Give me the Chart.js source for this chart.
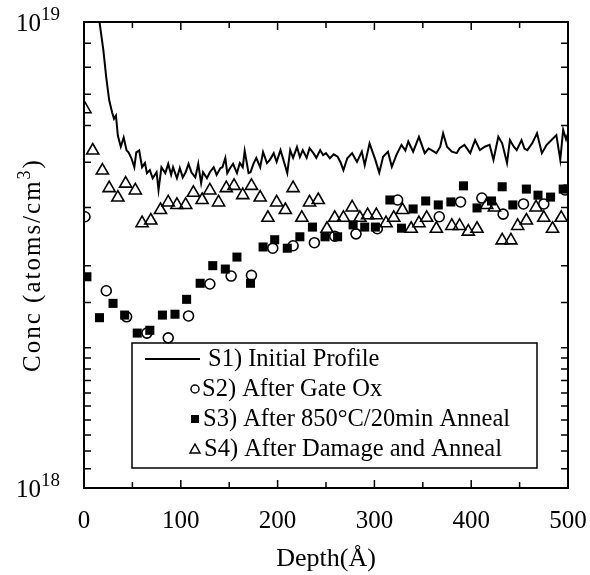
<!DOCTYPE html>
<html>
<head>
<meta charset="utf-8">
<script src="https://cdn.jsdelivr.net/npm/chart.js@4.4.1/dist/chart.umd.min.js"></script>
<style>
  body { margin: 0; background: #fff; }
</style>
</head>
<body>
<canvas id="myChart" width="590" height="575"></canvas>
<script>
// S1) initial profile - depth (A) and concentration (atoms/cm3)
const depthS1 = [0, 4, 8, 12, 16, 20, 23, 26, 29, 31, 33, 35, 38, 41, 44, 46, 49, 52, 54, 57,
  60, 63, 65, 68, 71, 75, 77, 80, 84, 87, 90, 92, 96, 99, 102, 105, 108, 111, 115, 118,
  121, 123, 127, 130, 134, 137, 141, 143, 146, 148, 151, 154, 158, 161, 164, 166, 170, 172, 175, 178,
  182, 185, 189, 192, 196, 199, 203, 206, 210, 213, 216, 220, 223, 226, 230, 233, 237, 240, 244, 247,
  250, 254, 258, 262, 265, 268, 272, 277, 282, 287, 290, 295, 301, 305, 309, 314, 318, 323, 328, 332,
  335, 340, 346, 352, 356, 359, 364, 368, 371, 375, 380, 385, 388, 393, 399, 404, 409, 414, 419, 423,
  428, 432, 437, 440, 444, 447, 452, 455, 458, 463, 468, 473, 478, 483, 488, 492, 495, 498, 500];
const concS1 = [3.0e19, 2.2e19, 1.6e19, 1.25e19, 1.0e19, 8.7e18, 7.6e18, 6.8e18, 6.4e18, 6.2e18, 6.3e18, 5.7e18, 5.4e18, 5.65e18, 5.3e18, 5.25e18, 5.1e18, 4.88e18, 5.25e18, 5.3e18,
  4.88e18, 4.98e18, 4.74e18, 4.81e18, 4.62e18, 4.76e18, 4.36e18, 4.88e18, 4.74e18, 4.96e18, 4.7e18, 4.88e18, 4.62e18, 4.86e18, 4.64e18, 4.76e18, 4.96e18, 4.76e18, 4.64e18, 4.96e18,
  4.51e18, 4.76e18, 4.62e18, 4.76e18, 4.88e18, 4.7e18, 4.86e18, 4.88e18, 5.11e18, 4.74e18, 4.86e18, 4.96e18, 4.74e18, 4.98e18, 4.88e18, 5.29e18, 4.74e18, 4.76e18, 4.96e18, 5.11e18,
  4.88e18, 5.26e18, 4.98e18, 5.06e18, 5.23e18, 5.01e18, 5.31e18, 5.06e18, 4.74e18, 5.31e18, 5.11e18, 5.39e18, 5.13e18, 5.31e18, 5.11e18, 5.36e18, 5.23e18, 5.11e18, 5.31e18, 5.18e18,
  5.23e18, 5.1e18, 5.2e18, 5.14e18, 5.0e18, 4.81e18, 5.1e18, 5.23e18, 5.01e18, 5.27e18, 4.93e18, 5.49e18, 5.06e18, 4.75e18, 5.14e18, 5.27e18, 4.89e18, 5.2e18, 5.45e18, 5.3e18,
  5.54e18, 5.27e18, 5.67e18, 5.23e18, 5.35e18, 5.31e18, 5.23e18, 5.4e18, 5.77e18, 5.4e18, 5.27e18, 5.23e18, 5.36e18, 5.45e18, 5.23e18, 5.58e18, 5.31e18, 5.4e18, 5.45e18, 5.06e18,
  5.67e18, 5.49e18, 4.98e18, 5.58e18, 5.4e18, 5.31e18, 5.58e18, 5.35e18, 5.31e18, 5.49e18, 5.77e18, 5.23e18, 5.45e18, 5.58e18, 5.72e18, 5.06e18, 5.87e18, 5.6e18, 5.77e18];

// S2) after gate ox
const depthS2 = [1, 23, 44, 65, 87, 108, 130, 152, 173, 195, 216, 238, 259, 281, 303, 324, 367, 389, 411, 433, 454, 475, 497];
const concS2 = [3.82e18, 2.65e18, 2.33e18, 2.15e18, 2.1e18, 2.34e18, 2.74e18, 2.85e18, 2.86e18, 3.27e18, 3.31e18, 3.36e18,
  3.47e18, 3.51e18, 3.6e18, 4.15e18, 3.82e18, 4.11e18, 4.19e18, 3.87e18, 4.07e18, 4.07e18, 4.36e18];

// S3) after 850C/20min anneal
const depthS3 = [3, 16, 30, 42, 55, 68, 81, 94, 106, 120, 133, 146, 158, 172, 185, 197, 210, 223, 236, 249,
  262, 278, 290, 301, 316, 328, 340, 353, 366, 379, 392, 406, 421, 432, 443, 457, 469, 482, 495];
const concS3 = [2.84e18, 2.32e18, 2.49e18, 2.35e18, 2.15e18, 2.18e18, 2.35e18, 2.36e18, 2.54e18, 2.75e18, 3.0e18, 2.95e18, 3.13e18, 2.75e18, 3.29e18, 3.41e18, 3.27e18, 3.46e18, 3.63e18, 3.46e18,
  3.46e18, 3.67e18, 3.63e18, 3.63e18, 4.15e18, 3.61e18, 3.97e18, 4.13e18, 4.05e18, 4.11e18, 4.45e18, 3.99e18, 4.13e18, 4.43e18, 4.05e18, 4.38e18, 4.25e18, 4.21e18, 4.38e18];

// S4) after damage and anneal
const depthS4 = [1, 9, 19, 26, 35, 43, 53, 60, 69, 79, 87, 96, 105, 113, 122, 130, 139, 147, 155, 164,
  173, 182, 190, 199, 208, 216, 225, 233, 242, 251, 259, 268, 277, 285, 293, 302, 312, 320, 329, 338,
  346, 354, 364, 380, 388, 397, 406, 416, 424, 432, 441, 448, 457, 467, 475, 484, 493];
const concS4 = [6.5e18, 5.3e18, 4.8e18, 4.4e18, 4.2e18, 4.5e18, 4.35e18, 3.7e18, 3.75e18, 3.95e18, 4.1e18, 4.05e18, 4.05e18, 4.3e18, 4.15e18, 4.35e18, 4.1e18, 4.4e18, 4.45e18, 4.25e18,
  4.45e18, 4.2e18, 3.8e18, 4.1e18, 3.95e18, 4.4e18, 3.8e18, 4.1e18, 4.15e18, 3.6e18, 3.8e18, 3.8e18, 4.0e18, 3.8e18, 3.85e18, 3.85e18, 3.7e18, 3.8e18, 3.95e18, 3.6e18,
  3.7e18, 3.8e18, 3.6e18, 3.65e18, 3.65e18, 3.55e18, 3.6e18, 4.05e18, 4.0e18, 3.4e18, 3.4e18, 3.65e18, 3.75e18, 4.0e18, 3.8e18, 3.6e18, 3.8e18];

const seriesNames = ["S1) Initial Profile", "S2) After Gate Ox", "S3) After 850°C/20min Anneal", "S4) After Damage and Anneal"];
const yExpLabels = [{ value: 1e18, exp: "18" }, { value: 1e19, exp: "19" }];

const serif = "'Liberation Serif', 'Times New Roman', serif";
const ctx = document.getElementById("myChart");

const toPoints = (xs, ys) => xs.map((x, i) => ({ x: x, y: ys[i] }));

// frame, inward ticks, y labels with exponent, y title, legend box inside the plot
const framePlugin = {
  id: "frame",
  afterDraw(chart) {
    const c = chart.ctx;
    const a = chart.chartArea;
    const x = chart.scales.x;
    const y = chart.scales.y;
    c.save();
    c.strokeStyle = "#000";
    c.lineWidth = 2;
    c.strokeRect(a.left, a.top, a.right - a.left, a.bottom - a.top);

    c.lineWidth = 1.5;
    c.beginPath();
    x.ticks.forEach((t) => {
      if (t.value <= x.min || t.value >= x.max) return;
      const px = x.getPixelForValue(t.value);
      const len = t.value % 100 === 0 ? 8 : 6;
      c.moveTo(px, a.bottom);
      c.lineTo(px, a.bottom - len);
      c.moveTo(px, a.top);
      c.lineTo(px, a.top + len);
    });
    y.ticks.forEach((t) => {
      if (t.value <= y.min || t.value >= y.max) return;
      const py = y.getPixelForValue(t.value);
      c.moveTo(a.left, py);
      c.lineTo(a.left + 7, py);
      c.moveTo(a.right, py);
      c.lineTo(a.right - 7, py);
    });
    c.stroke();

    c.fillStyle = "#000";
    c.textBaseline = "middle";
    yExpLabels.forEach((l) => {
      const py = y.getPixelForValue(l.value);
      c.font = "25px " + serif;
      c.textAlign = "right";
      c.fillText("10", 41, py + 2);
      c.font = "19px " + serif;
      c.textAlign = "left";
      c.fillText(l.exp, 41, py - 7);
    });

    // y title, rotated, with a raised 3
    c.save();
    c.translate(32, 265);
    c.rotate(-Math.PI / 2);
    c.letterSpacing = "2px";
    c.textAlign = "left";
    const part1 = "Conc (atoms/cm";
    c.font = "25px " + serif;
    const w1 = c.measureText(part1).width;
    c.font = "18px " + serif;
    const w2 = c.measureText("3").width;
    c.font = "25px " + serif;
    const w3 = c.measureText(")").width;
    let sx = -(w1 + w2 + w3) / 2;
    c.fillText(part1, sx, 1);
    sx += w1;
    c.font = "18px " + serif;
    c.fillText("3", sx, -7);
    sx += w2;
    c.font = "25px " + serif;
    c.fillText(")", sx, 1);
    c.restore();

    // legend
    const box = { left: 132, top: 343, width: 405, height: 125 };
    c.lineWidth = 1.5;
    c.strokeRect(box.left, box.top, box.width, box.height);
    const rows = [359, 389, 419, 449];
    const textX = [208, 202, 203, 204];
    const mx = 195;
    c.font = "24.5px " + serif;
    c.textAlign = "left";
    rows.forEach((ry, i) => {
      c.fillText(seriesNames[i], textX[i], ry + 1);
      c.beginPath();
      if (i === 0) {
        c.lineWidth = 2;
        c.moveTo(145, ry);
        c.lineTo(200, ry);
        c.stroke();
      } else if (i === 1) {
        c.lineWidth = 1.5;
        c.arc(mx, ry, 4, 0, Math.PI * 2);
        c.stroke();
      } else if (i === 2) {
        c.fillRect(mx - 4, ry - 4, 8, 8);
      } else {
        c.lineWidth = 1.5;
        c.moveTo(mx, ry - 5);
        c.lineTo(mx + 5, ry + 4);
        c.lineTo(mx - 5, ry + 4);
        c.closePath();
        c.stroke();
      }
    });
    c.restore();
  }
};

new Chart(ctx, {
  type: "scatter",
  data: {
    datasets: [
      {
        label: seriesNames[0],
        data: toPoints(depthS1, concS1),
        showLine: true,
        borderColor: "#000",
        borderWidth: 2,
        pointRadius: 0,
        tension: 0
      },
      {
        label: seriesNames[1],
        data: toPoints(depthS2, concS2),
        pointStyle: "circle",
        pointRadius: 5,
        borderColor: "#000",
        borderWidth: 1.6,
        backgroundColor: "rgba(0,0,0,0)"
      },
      {
        label: seriesNames[2],
        data: toPoints(depthS3, concS3),
        pointStyle: "rect",
        pointRadius: 6.4,
        borderWidth: 0,
        backgroundColor: "#000"
      },
      {
        label: seriesNames[3],
        data: toPoints(depthS4, concS4),
        pointStyle: "triangle",
        pointRadius: 7,
        borderColor: "#000",
        borderWidth: 1.6,
        backgroundColor: "rgba(0,0,0,0)"
      }
    ]
  },
  options: {
    responsive: false,
    animation: false,
    devicePixelRatio: 1,
    layout: { padding: { left: 0, right: 22, top: 22, bottom: 0 } },
    plugins: { legend: { display: false }, tooltip: { enabled: false } },
    scales: {
      x: {
        type: "linear",
        min: 0,
        max: 500,
        grid: { display: false },
        border: { display: false },
        ticks: {
          stepSize: 50,
          autoSkip: false,
          maxRotation: 0,
          padding: 10,
          color: "#000",
          font: { family: serif, size: 25 },
          callback: (v) => (v % 100 === 0 ? String(v) : "")
        },
        title: {
          display: true,
          text: "Depth(Å)",
          color: "#000",
          font: { family: serif, size: 26 },
          padding: { top: 0, bottom: 0 }
        },
        afterFit: (s) => {
          s.height = 87;
          s.paddingLeft = 0;
          s.paddingRight = 0;
        }
      },
      y: {
        type: "logarithmic",
        min: 1e18,
        max: 1e19,
        grid: { display: false },
        border: { display: false },
        ticks: { display: false },
        title: { display: false },
        afterFit: (s) => { s.width = 84; }
      }
    }
  },
  plugins: [framePlugin]
});
</script>
</body>
</html>
